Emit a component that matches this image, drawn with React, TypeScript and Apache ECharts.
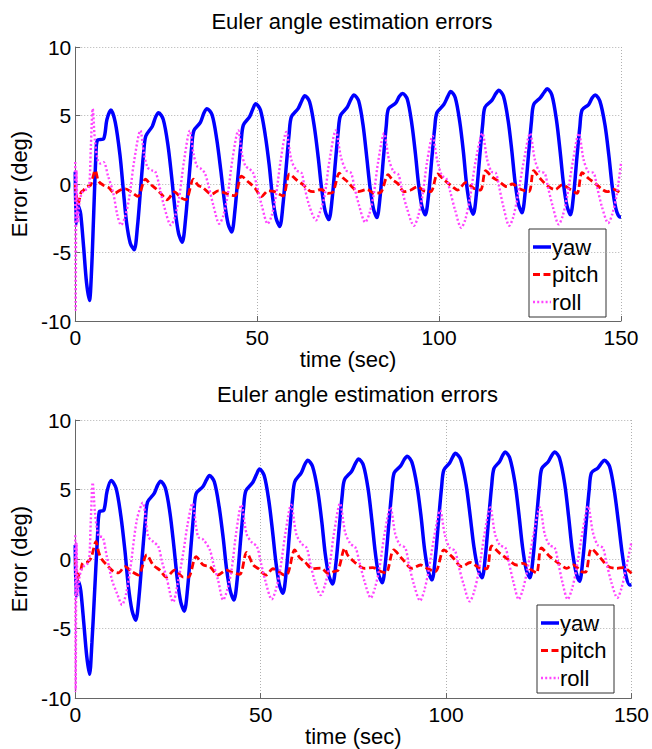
import React, { useEffect, useRef } from "react";
import * as echarts from "echarts";

const TITLE = "Euler angle estimation errors";
const X_NAME = "time (sec)";
const Y_NAME = "Error (deg)";
const SERIES_NAMES = ["yaw", "pitch", "roll"];
const X_MIN = 0, X_MAX = 150, X_STEP = 50;
const Y_MIN = -10, Y_MAX = 10, Y_STEP = 5;

// ---- top panel ----
const yaw1: [number, number][] = [
  [0,0.9],[0.2,-2.9],[0.5,-1.5],[1.0,-1.7],[1.5,-2.2],[2.3,-4.6],[3.1,-7.2],[3.9,-8.5],[4.5,-6.2],[5.0,-2.7],[5.7,2.2],[6.1,3.2],[7.8,3.3],[8.7,4.7],[9.8,5.4],
  [11.0,4.5],[12.3,2.1],[13.2,-0.4],[14.1,-2.8],[15.1,-4.3],[16.2,-4.8],
  [17.1,-3.1],[18.0,-0.2],[18.8,2.3],[19.4,3.5],[21.15,4.2],[22.1,4.9],[22.9,5.2],
  [24.2,4.7],[25.5,2.8],[26.5,0.5],[27.45,-1.9],[28.4,-3.6],[29.4,-4.25],
  [30.3,-2.6],[31.2,0.2],[32.0,2.7],[32.6,3.9],[34.4,4.5],[35.4,5.2],[36.2,5.5],
  [37.6,5.05],[38.9,3.25],[40.0,1.0],[41.0,-1.25],[42.0,-2.9],[43.0,-3.5],
  [43.9,-1.9],[44.8,0.8],[45.6,3.1],[46.2,4.3],[47.9,4.9],[48.85,5.5],[49.6,5.85],
  [50.9,5.4],[52.2,3.6],[53.3,1.4],[54.2,-0.9],[55.2,-2.5],[56.2,-3.1],
  [57.1,-1.5],[58.0,1.3],[58.8,3.7],[59.4,4.9],[61.25,5.5],[62.3,6.1],[63.1,6.45],
  [64.4,6.0],[65.7,4.2],[66.8,1.9],[67.7,-0.3],[68.7,-2.0],[69.7,-2.6],
  [70.6,-1.1],[71.5,1.6],[72.3,3.9],[72.9,5.0],[74.75,5.6],[75.8,6.2],[76.6,6.5],
  [77.9,6.05],[79.1,4.3],[80.1,2.0],[81.0,-0.2],[81.95,-1.8],[82.9,-2.45],
  [83.8,-0.9],[84.7,1.9],[85.5,4.3],[86.1,5.5],[88.05,5.9],[89.1,6.4],[90.0,6.6],
  [91.25,6.2],[92.5,4.4],[93.5,2.2],[94.35,0.0],[95.25,-1.6],[96.2,-2.25],
  [97.1,-0.8],[98.0,1.85],[98.8,4.1],[99.4,5.2],[101.3,5.8],[102.4,6.4],[103.2,6.75],
  [104.45,6.3],[105.7,4.5],[106.7,2.3],[107.55,0.0],[108.5,-1.6],[109.4,-2.2],
  [110.3,-0.6],[111.2,2.1],[112.0,4.4],[112.6,5.6],[114.5,6.1],[115.6,6.6],[116.4,6.85],
  [117.7,6.4],[119.0,4.6],[120.0,2.4],[120.9,0.1],[121.85,-1.5],[122.8,-2.1],
  [123.7,-0.5],[124.6,2.2],[125.4,4.6],[126.0,5.8],[127.85,6.3],[128.9,6.7],[129.7,6.95],
  [131.0,6.5],[132.3,4.6],[133.3,2.3],[134.2,0.0],[135.15,-1.6],[136.1,-2.25],
  [137.0,-0.7],[137.9,2.0],[138.7,4.2],[139.3,5.4],[141.1,5.8],[142.1,6.3],[142.9,6.5],
  [144.2,6.05],[145.6,4.3],[146.7,2.0],[147.6,-0.2],[148.6,-1.8],[149.6,-2.4],[150,-2.4],
];

const pitch1: [number, number][] = [
  [0,0.0],[0.3,-0.8],[0.6,-1.5],[1.0,-1.3],[1.6,-0.6],[2.3,-0.45],[3.2,-0.2],[4.2,-0.1],[5.5,1.0],[6.4,0.2],[7.8,-0.1],[9.1,-0.25],[10.9,-0.68],[12.3,-0.45],[13.8,-0.35],[15.5,-0.6],[17.2,-0.9],[19.3,0.35],
  [20.6,0.0],[22.2,-0.35],[23.7,-0.75],[25.2,-1.15],[27.3,-0.58],[29.0,-1.0],[30.4,-1.15],[32.5,0.35],
  [33.8,-0.1],[35.0,-0.25],[37.5,-0.75],[39.3,-0.5],[41.1,-0.65],[42.5,-0.8],[43.9,-0.85],[45.7,0.58],
  [47.5,0.17],[49.4,-0.3],[51.2,-0.92],[53.0,-0.5],[54.8,-0.56],[57.1,-0.88],[58.9,0.73],
  [60.8,0.3],[62.6,-0.05],[64.4,-0.5],[65.3,-0.55],[67.6,-0.4],[69.4,-0.68],[70.8,-0.6],[72.6,0.8],
  [73.6,0.45],[74.9,0.15],[76.4,-0.3],[77.7,-0.56],[80.2,-0.4],[82.2,-0.68],[84.0,-0.6],[86.0,0.68],
  [87.2,0.3],[88.6,0.05],[90.4,-0.56],[92.2,-0.44],[94.1,-0.2],[95.9,-0.5],[97.7,-0.56],[99.6,0.73],
  [101.4,0.3],[103.7,-0.2],[105.1,-0.44],[107.3,0.1],[109.6,-0.32],[111.4,-0.44],[112.8,0.97],
  [114.6,0.5],[116.4,0.2],[118.7,-0.2],[120.1,0.0],[122.4,-0.39],[124.7,-0.56],[126.0,0.97],
  [127.8,0.4],[130.1,-0.2],[131.9,-0.4],[133.8,-0.07],[136.1,-0.4],[137.9,-0.68],[139.3,0.83],
  [141.1,0.4],[142.9,0.05],[144.8,-0.39],[146.2,-0.56],[148.0,-0.39],[150,-0.68],
];

const roll1: [number, number][] = [
  [0,1.6],[0.12,-9.2],[0.35,1.0],[0.7,-2.8],[1.2,-1.2],[2.0,-0.6],[3.0,-0.4],[3.8,-0.2],[4.3,2.8],[4.8,5.5],[5.4,3.2],[6.2,1.7],[6.9,1.5],[7.8,1.6],[9.0,0.6],[10.4,-0.6],[11.6,-2.3],[12.6,-3.0],
  [13.7,-2.4],[14.9,-0.9],[16.2,1.7],[17.9,3.9],
  [18.9,2.2],[19.9,1.2],[21.0,1.0],[22.0,0.9],[23.0,0.0],[24.4,-1.6],[26.3,-3.0],
  [27.4,-2.4],[28.6,-0.9],[29.9,1.7],[31.5,3.9],
  [32.5,2.2],[33.5,1.3],[34.6,1.1],[35.6,0.8],[36.6,-0.1],[38.0,-1.6],[39.6,-2.9],
  [40.7,-2.3],[41.9,-0.8],[43.2,1.8],[44.8,3.9],
  [45.8,2.2],[46.8,1.3],[47.9,1.1],[48.9,0.8],[49.9,-0.1],[51.3,-1.6],[52.9,-2.9],
  [54.0,-2.3],[55.2,-0.8],[56.5,1.8],[58.0,3.8],
  [59.4,1.75],[60.8,1.0],[62.2,0.8],[63.0,-0.2],[64.4,-1.65],[66.2,-2.65],
  [67.3,-2.0],[68.5,-0.9],[69.9,1.75],[71.6,3.9],
  [73.0,2.0],[74.4,1.0],[75.8,0.8],[76.7,-0.2],[78.1,-1.65],[79.7,-2.8],
  [80.8,-2.2],[82.0,-0.8],[83.3,1.7],[84.9,3.7],
  [86.2,1.8],[87.5,0.9],[88.8,0.7],[89.7,-0.3],[91.2,-1.8],[93.1,-3.05],
  [94.2,-2.4],[95.4,-0.9],[96.7,1.6],[98.2,3.5],
  [99.5,1.7],[100.8,0.6],[102.0,0.4],[103.0,-0.5],[104.4,-1.9],[106.1,-3.2],
  [107.2,-2.6],[108.5,-1.0],[110.0,1.6],[111.9,3.7],
  [113.2,1.8],[114.4,0.9],[115.6,0.8],[116.5,-0.2],[117.8,-1.8],[119.3,-3.05],
  [120.4,-2.4],[121.6,-0.9],[123.3,1.7],[125.0,3.7],
  [126.3,1.8],[127.6,0.9],[129.0,0.8],[129.9,-0.2],[131.3,-1.7],[132.9,-2.95],
  [134.0,-2.3],[135.2,-0.9],[136.8,1.7],[138.4,3.7],
  [139.7,1.8],[141.0,0.9],[142.5,0.8],[143.4,-0.2],[144.8,-1.7],[146.5,-2.85],
  [147.6,-2.2],[148.8,-0.8],[150,1.5],
];

// ---- bottom panel ----
const yaw2: [number, number][] = [
  [0,1.0],[0.2,-2.7],[0.5,-1.6],[1.0,-1.7],[1.5,-2.3],[2.3,-4.6],[3.1,-7.0],[3.85,-8.3],[4.5,-6.0],[5.1,-3.0],[6.0,1.6],[6.5,3.4],[7.7,3.5],[8.6,4.9],[9.7,5.65],
  [11.0,5.1],[12.3,3.1],[13.4,0.6],[14.3,-1.9],[15.3,-3.7],[16.3,-4.4],
  [17.2,-2.7],[18.1,0.3],[18.9,2.8],[19.5,4.1],[21.25,4.7],[22.2,5.3],[23.0,5.6],
  [24.3,5.1],[25.55,3.3],[26.6,0.9],[27.5,-1.4],[28.45,-3.1],[29.4,-3.75],
  [30.3,-2.1],[31.2,0.9],[32.0,3.4],[32.6,4.7],[34.4,5.2],[35.4,5.7],[36.2,6.0],
  [37.5,5.55],[38.8,3.75],[39.9,1.5],[40.8,-0.7],[41.8,-2.3],[42.8,-2.95],
  [43.7,-1.4],[44.6,1.4],[45.4,3.7],[46.0,4.9],[47.85,5.5],[48.9,6.1],[49.7,6.47],
  [50.95,6.0],[52.2,4.2],[53.2,2.0],[54.1,-0.2],[55.05,-1.85],[56.0,-2.47],
  [56.9,-0.9],[57.8,1.95],[58.6,4.35],[59.2,5.56],[60.95,6.2],[61.9,6.8],[62.7,7.1],
  [64.0,6.65],[65.4,4.9],[66.5,2.65],[67.4,0.4],[68.4,-1.2],[69.4,-1.8],
  [70.3,-0.3],[71.2,2.3],[72.0,4.6],[72.6,5.7],[74.5,6.3],[75.6,6.9],[76.4,7.2],
  [77.7,6.75],[79.0,5.0],[80.0,2.75],[80.9,0.5],[81.8,-1.1],[82.8,-1.7],
  [83.7,-0.1],[84.6,2.65],[85.4,5.0],[86.0,6.2],[87.75,6.7],[88.7,7.15],[89.5,7.4],
  [90.8,6.95],[92.2,5.2],[93.3,2.95],[94.2,0.7],[95.2,-0.9],[96.2,-1.5],
  [97.1,0.1],[98.0,2.85],[98.8,5.2],[99.4,6.4],[100.95,6.9],[101.8,7.35],[102.5,7.6],
  [103.95,7.15],[105.4,5.35],[106.5,3.1],[107.5,0.9],[108.6,-0.7],[109.7,-1.35],
  [110.6,0.2],[111.5,2.95],[112.3,5.3],[112.9,6.5],[114.4,7.0],[115.25,7.45],[115.9,7.7],
  [117.2,7.25],[118.6,5.45],[119.65,3.2],[120.6,0.9],[121.6,-0.75],[122.6,-1.35],
  [123.5,0.2],[124.4,2.95],[125.2,5.3],[125.8,6.5],[127.55,7.0],[128.5,7.45],[129.3,7.7],
  [130.6,7.25],[132.0,5.4],[133.05,3.05],[134.0,0.7],[135.0,-0.9],[136.0,-1.6],
  [136.9,0.0],[137.8,2.7],[138.6,5.0],[139.2,6.2],[140.95,6.55],[141.9,6.9],[142.7,7.1],
  [144.1,6.65],[145.4,4.85],[146.5,2.6],[147.5,0.4],[148.5,-1.2],[149.5,-1.87],[150,-1.85],
];

const pitch2: [number, number][] = [
  [0,0.0],[0.3,-0.8],[0.6,-1.5],[1.0,-1.1],[1.5,-0.8],[2.0,-0.3],[3.4,-0.2],[4.3,0.1],[5.6,1.25],[6.3,0.5],[7.1,0.0],[8.5,-0.43],[10.3,-0.9],[11.6,-1.0],[13.4,-0.55],[15.2,-0.9],[17.0,-1.15],[19.3,0.29],
  [21.0,-0.43],[22.8,-0.8],[24.6,-1.3],[26.8,-0.8],[29.1,-1.3],[30.5,-1.3],[32.6,0.17],
  [34.5,-0.43],[36.3,-0.55],[38.5,-1.15],[40.8,-0.8],[42.6,-1.0],[44.4,-1.1],[46.2,0.48],
  [48.0,-0.43],[49.4,-0.7],[51.5,-1.15],[53.3,-0.7],[54.8,-0.9],[56.3,-1.15],[57.4,-1.0],[59.2,0.65],
  [60.5,0.1],[61.9,-0.2],[64.0,-0.7],[66.2,-0.65],[68.3,-1.05],[69.8,-0.9],[70.9,-0.8],[72.7,0.77],
  [73.4,0.3],[75.2,-0.2],[77.9,-0.67],[80.2,-0.62],[82.4,-0.9],[83.8,-1.0],[85.9,0.65],
  [88.2,0.0],[90.8,-0.67],[93.1,-0.43],[94.8,-0.67],[97.1,-0.9],[99.4,0.65],
  [101.6,0.17],[104.3,-0.55],[106.5,-0.25],[109.2,-0.67],[111.0,-0.7],[112.3,0.94],
  [114.5,0.41],[116.8,-0.05],[119.0,-0.43],[120.8,-0.31],[123.0,-0.79],[124.4,-1.0],[125.7,0.79],
  [128.0,0.17],[130.7,-0.38],[132.5,-0.67],[134.3,-0.43],[136.5,-0.9],[137.6,-0.95],[139.2,0.74],
  [141.5,0.12],[143.7,-0.53],[146.0,-0.67],[147.8,-0.62],[150,-1.03],
];

const roll2: [number, number][] = [
  [0,1.7],[0.12,-9.5],[0.35,1.2],[0.7,-2.6],[1.2,-1.2],[2.0,-0.6],[3.0,-0.4],[3.7,-0.2],[4.2,2.8],[4.7,5.5],[5.3,3.4],[5.9,2.1],[6.5,1.6],[7.2,1.6],[8.5,0.2],[9.9,-1.5],[11.3,-2.5],[12.6,-3.3],
  [13.7,-2.5],[14.8,-0.8],[16.6,2.8],[18.2,4.05],
  [19.7,1.6],[21.0,1.25],[22.4,0.9],[23.4,-0.2],[24.6,-1.3],[26.4,-3.1],
  [27.6,-1.8],[29.1,0.4],[30.3,2.5],[31.6,4.0],
  [33.1,1.6],[34.5,1.4],[36.3,0.65],[37.3,-0.4],[38.5,-1.5],[39.9,-2.95],
  [41.0,-2.2],[42.2,-0.7],[43.4,1.9],[44.8,3.9],
  [46.2,1.8],[47.6,1.2],[49.0,0.9],[50.0,-0.2],[51.3,-1.6],[53.0,-2.9],
  [54.1,-2.2],[55.3,-0.7],[56.7,1.9],[58.2,3.9],
  [59.6,1.8],[61.0,1.1],[62.4,0.8],[63.3,-0.2],[64.6,-1.6],[66.2,-2.6],
  [67.3,-1.9],[68.5,-0.6],[69.8,1.9],[71.4,4.0],
  [72.8,1.9],[74.2,1.1],[75.6,0.8],[76.6,-0.2],[78.0,-1.6],[79.7,-2.8],
  [80.8,-2.1],[82.0,-0.7],[83.4,1.8],[85.0,3.7],
  [86.3,1.8],[87.6,1.0],[89.0,0.8],[89.9,-0.3],[91.3,-1.8],[93.0,-3.0],
  [94.1,-2.3],[95.3,-0.8],[96.8,1.6],[98.4,3.5],
  [99.7,1.7],[101.0,0.8],[102.4,0.6],[103.3,-0.4],[104.7,-1.8],[106.4,-3.05],
  [107.5,-2.4],[108.8,-0.9],[110.3,1.7],[111.9,3.7],
  [113.2,1.8],[114.5,1.0],[116.0,0.8],[116.9,-0.2],[118.2,-1.7],[119.6,-2.9],
  [120.7,-2.2],[121.9,-0.8],[123.6,1.8],[125.3,3.7],
  [126.6,1.8],[127.9,1.0],[129.3,0.8],[130.2,-0.2],[131.4,-1.7],[132.8,-2.9],
  [133.9,-2.2],[135.1,-0.8],[136.7,1.8],[138.3,3.8],
  [139.6,1.9],[140.9,1.0],[142.3,0.8],[143.2,-0.2],[144.6,-1.7],[146.2,-2.8],
  [147.3,-2.1],[148.5,-0.7],[150,1.25],
];

const FONT = "'Liberation Sans', Arial, Helvetica, sans-serif";
const COLORS = ["#0000ff", "#ff0000", "#ff44ff"];
const WIDTHS = [3.5, 2.8, 2.4];
const DASHES: any[] = ["solid", [7, 3.5], [2, 2.2]];

const GRIDS = [
  { left: 73, top: 47, width: 548, height: 274 },
  { left: 73, top: 420, width: 559, height: 278 },
];
const LEGENDS = [
  { x: 529, y: 229 },
  { x: 537, y: 605 },
];

function xAxisFor(i: number) {
  return {
    type: "value",
    gridIndex: i,
    min: X_MIN,
    max: X_MAX,
    interval: X_STEP,
    name: X_NAME,
    nameLocation: "middle",
    nameGap: 23,
    nameTextStyle: { fontSize: 22, color: "#000", fontFamily: FONT, verticalAlign: "top" },
    axisLine: { show: true, onZero: false, lineStyle: { color: "#666", width: 1 } },
    axisTick: { show: true, inside: true, length: 5, lineStyle: { color: "#666" } },
    axisLabel: { fontSize: 21, color: "#000", fontFamily: FONT, margin: 6 },
    splitLine: { show: true, lineStyle: { type: [1, 2], color: "#b0b0b0", width: 1 } },
  };
}

function yAxisFor(i: number) {
  return {
    type: "value",
    gridIndex: i,
    min: Y_MIN,
    max: Y_MAX,
    interval: Y_STEP,
    name: Y_NAME,
    nameLocation: "middle",
    nameGap: 40,
    nameRotate: 90,
    nameTextStyle: { fontSize: 22, color: "#000", fontFamily: FONT },
    axisLine: { show: true, onZero: false, lineStyle: { color: "#666", width: 1 } },
    axisTick: { show: true, inside: true, length: 5, lineStyle: { color: "#666" } },
    axisLabel: { fontSize: 21, color: "#000", fontFamily: FONT, margin: 4 },
    splitLine: { show: true, lineStyle: { type: [1, 2], color: "#b0b0b0", width: 1 } },
  };
}

function legendGraphic(pos: { x: number; y: number }) {
  const children: any[] = [
    {
      type: "rect",
      shape: { x: 0, y: 0, width: 77, height: 88 },
      style: { fill: "#fff", stroke: "#333", lineWidth: 1 },
    },
  ];
  SERIES_NAMES.forEach((name, k) => {
    const cy = 18 + k * 27.5;
    children.push({
      type: "line",
      shape: { x1: 4, y1: cy, x2: 22, y2: cy },
      style: {
        stroke: COLORS[k],
        lineWidth: WIDTHS[k],
        lineDash: DASHES[k] === "solid" ? null : DASHES[k],
      },
    });
    children.push({
      type: "text",
      x: 23,
      y: cy,
      style: {
        text: name,
        fill: "#000",
        fontSize: 22,
        fontFamily: FONT,
        verticalAlign: "middle",
        align: "left",
      },
    });
  });
  return { type: "group", x: pos.x, y: pos.y, z: 100, children };
}

export default function App() {
  const ref = useRef<HTMLDivElement>(null);
  useEffect(() => {
    if (!ref.current) return;
    const chart = echarts.init(ref.current, undefined, { renderer: "svg" });
    const panels = [
      [yaw1, pitch1, roll1],
      [yaw2, pitch2, roll2],
    ];
    const series: any[] = [];
    panels.forEach((p, gi) => {
      p.forEach((data, k) => {
        series.push({
          type: "line",
          name: SERIES_NAMES[k],
          xAxisIndex: gi,
          yAxisIndex: gi,
          data,
          symbol: "none",
          showSymbol: false,
          smooth: 0.3,
          clip: true,
          lineStyle: { color: COLORS[k], width: WIDTHS[k], type: DASHES[k] },
          itemStyle: { color: COLORS[k] },
          z: 2 + k,
        });
      });
    });
    chart.setOption({
      animation: false,
      backgroundColor: "#ffffff",
      title: GRIDS.map((g) => ({
        text: TITLE,
        left: g.left + g.width / 2,
        top: g.top - 42,
        textAlign: "center",
        textStyle: { fontSize: 22, fontWeight: "normal", color: "#000", fontFamily: FONT },
      })),
      grid: GRIDS.map((g) => ({ ...g, containLabel: false })),
      xAxis: GRIDS.map((_, i) => xAxisFor(i)),
      yAxis: GRIDS.map((_, i) => yAxisFor(i)),
      series,
      graphic: LEGENDS.map((l) => legendGraphic(l)),
    });
    return () => chart.dispose();
  }, []);
  return (
    <div
      ref={ref}
      style={{ position: "absolute", left: 0, top: 0, width: 652, height: 749, background: "#fff" }}
    />
  );
}
